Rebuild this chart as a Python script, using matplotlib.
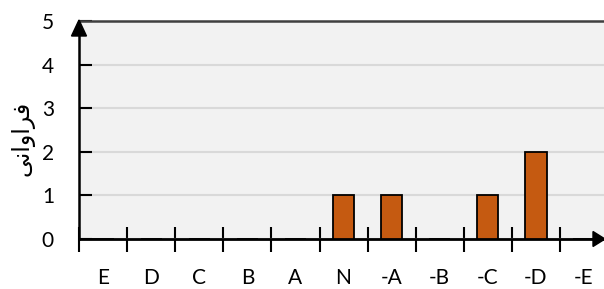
import matplotlib
matplotlib.use('Agg')
import matplotlib.pyplot as plt
from matplotlib.patches import Polygon
import numpy as np

cats = ['E', 'D', 'C', 'B', 'A', 'N', '-A', '-B', '-C', '-D', '-E']
vals = [0, 0, 0, 0, 0, 1, 1, 0, 1, 2, 0]
yticks = [0, 1, 2, 3, 4, 5]
# pre-shaped (presentation forms, visual order) for "فراوانی"
ylab = '\ufbfd\ufee7\ufe8d\ufeed\ufe8d\ufeae\ufed3'

plt.rcParams['font.family'] = ['Lato', 'DejaVu Sans']

W, H = 604, 289
fig = plt.figure(figsize=(W/100, H/100), dpi=100)
ax = fig.add_axes([79/W, 50/H, 525/W, 218/H])
ax.set_facecolor('#f2f2f2')

x = np.arange(len(cats))
ax.bar(x, vals, width=0.44, color='#c55a11', edgecolor='black', linewidth=1.3, zorder=3)

ax.set_xlim(-0.5, -0.5 + 525/48.1)
ax.set_ylim(0, 5)
ax.set_yticks(yticks)
ax.set_yticklabels([str(v) for v in yticks], fontsize=15)
ax.yaxis.grid(True, color='#d9d9d9', linewidth=1.5, zorder=0)
ax.set_axisbelow(True)

ax.set_xticks(x)
ax.set_xticklabels(cats, fontsize=15)
ax.set_xticks(np.arange(-0.5, 10, 1.0), minor=True)
ax.tick_params(axis='x', which='major', length=0, pad=21)
ax.tick_params(axis='x', which='minor', direction='inout', length=18, width=1.5, color='black')
ax.tick_params(axis='y', direction='in', length=9, width=1.5, color='black', pad=18)

ax.spines['right'].set_visible(False)
ax.spines['top'].set_color('#404040')
ax.spines['top'].set_linewidth(1.8)
ax.spines['left'].set_color('black')
ax.spines['left'].set_linewidth(1.8)
ax.spines['bottom'].set_color('black')
ax.spines['bottom'].set_linewidth(2)

# arrow heads (figure pixel coords, y measured from top)
def px(pts):
    return [(a / W, 1 - b / H) for a, b in pts]

fig.patches.append(Polygon(px([(79, 20), (71.5, 36), (86.5, 36)]), closed=True,
                           facecolor='black', edgecolor='black', transform=fig.transFigure))
fig.patches.append(Polygon(px([(605, 239), (593, 231.5), (593, 246.5)]), closed=True,
                           facecolor='black', edgecolor='black', transform=fig.transFigure))

fig.text(22/W, 1 - 138/H, ylab, rotation=90, ha='center', va='center', fontsize=17,
         family=['DejaVu Sans'])

fig.savefig('out.png', dpi=100)
